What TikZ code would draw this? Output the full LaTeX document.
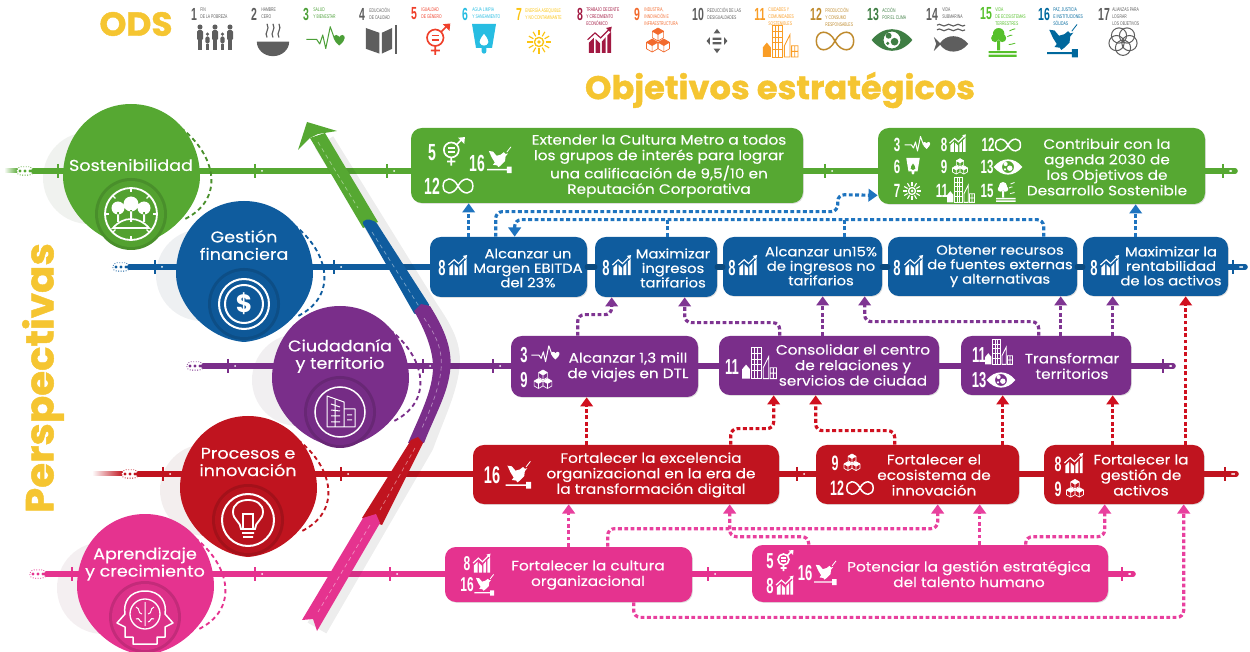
\documentclass[tikz,border=0pt]{standalone}
\usepackage{fontspec}
\usetikzlibrary{arrows.meta,calc,shadows}
\setmainfont{Poppins}
\newfontfamily\nar[FakeStretch=0.6]{Liberation Sans}
\newfontfamily\narl[FakeStretch=0.64]{Liberation Sans}
\newfontfamily\wf[FakeStretch=1.12,FakeBold=0.3]{Poppins}
\newfontfamily\hf[BoldFeatures={FakeBold=1.2,FakeStretch=1.03}]{Poppins}
\definecolor{cg}{HTML}{56A832}\definecolor{cb}{HTML}{0F5C9E}\definecolor{cp}{HTML}{7A2E8A}
\definecolor{cr}{HTML}{C0141F}\definecolor{ck}{HTML}{E5338F}\definecolor{cy}{HTML}{F5C531}
\definecolor{lb}{HTML}{1F74BF}\definecolor{lp}{HTML}{7F3592}\definecolor{lr}{HTML}{D0101F}\definecolor{lk}{HTML}{E8409E}
\definecolor{sg}{HTML}{5E5E5E}\definecolor{s3}{HTML}{4C9F38}\definecolor{s5}{HTML}{EF402B}\definecolor{s6}{HTML}{27BDE2}
\definecolor{s7}{HTML}{FBC412}\definecolor{s8}{HTML}{A21942}\definecolor{s9}{HTML}{F26A2D}\definecolor{s11}{HTML}{F99D26}
\definecolor{s12}{HTML}{BF8B2E}\definecolor{s13}{HTML}{3F7E44}\definecolor{s15}{HTML}{56C02B}\definecolor{s16}{HTML}{00689D}
\newcounter{nn}
\newcommand\numb[4]{\stepcounter{nn}\node[numst,font={\nar\bfseries\fontsize{#4}{#4}\selectfont}] (num\arabic{nn}) at (#1,#2) {#3};}
\newcommand\bx[6]{\node[boxst,fill=#6,minimum width={(#4-#2)*0.6pt},minimum height={(#5-#3)*0.6pt}] (#1) at ({(#2+#4)/2},{(#3+#5)/2}) {};}
\newcommand\sdg[6]{\node[numst,text=#5,font={\nar\bfseries\fontsize{10.5}{10.5}\selectfont}] (sn#1) at (#2,14) {#4};
 \node[anchor=north west,inner sep=0,align=left,text=#5,font={\narl\fontsize{3.2}{4.2}\selectfont}] (st#1) at (#3,7.5) {#6};}
\newcommand\cubeat[4]{\begin{scope}[shift={(#1,#2)},scale=#3]
 \fill[#4] (0,-1)--(.87,-.5)--(0,0)--(-.87,-.5)--cycle;
 \draw[#4,line width=.4pt,line join=round] (0,-1)--(.87,-.5)--(.87,.5)--(0,1)--(-.87,.5)--(-.87,-.5)--cycle (0,0)--(.87,-.5) (0,0)--(-.87,-.5) (0,0)--(0,1);
 \end{scope}}
\newcommand\tk[3]{\draw[#3,line width=1.3pt] (#1,#2-7)--(#1,#2+7); \fill[white] (#1+7,#2) circle (1);}
\newcommand\blob[5]{% cx cy col dashcol inner-offset
 \begin{scope}[shift={(#1,#2)}]
 \draw[#4,line width=1.1pt,dash pattern=on 2.6pt off 2pt] (50,-42) .. controls (85,-15) and (95,30) .. (52,50);
 \fill[#3] (0,-66) .. controls (38,-66) and (69,-35) .. (69,7) .. controls (69,36) and (38,72) .. (0,75) .. controls (-38,72) and (-68,36) .. (-68,7) .. controls (-68,-35) and (-38,-66) .. (0,-66) -- cycle;
 \fill[#3!85!black] (0,#5) circle (36);
 \fill[#3!96!black] (0,#5) circle (33);
 \end{scope}}
\tikzset{
 boxst/.style={rectangle,rounded corners=6.5pt,inner sep=0,draw=none,drop shadow={opacity=.25,shadow xshift=.5pt,shadow yshift=-.5pt}},
 txt/.style={text=white,align=center,inner sep=0,font={\wf\fontsize{8.2}{9.3}\selectfont}},
 txs/.style={text=white,align=center,inner sep=0,font={\wf\fontsize{7.9}{8.7}\selectfont}},
 ttl/.style={text=white,align=center,inner sep=0,font={\wf\fontsize{9.4}{10.4}\selectfont}},
 numst/.style={text=white,inner sep=0},
 track/.style={line width=3.4pt,line cap=round},
 conn/.style={line width=1.9pt,dash pattern=on 2.3pt off 1.5pt,rounded corners=4pt,-{Triangle[width=7.5pt,length=5.5pt]}},
 stub/.style={line width=1.9pt,dash pattern=on 2.3pt off 1.5pt,rounded corners=4pt},
 capst/.style={rectangle,rounded corners=2.5pt,draw=#1,densely dotted,line width=.5pt,fill=white,minimum width=10pt,minimum height=5pt,inner sep=0},
 ichart/.pic={\fill[#1] (-18,19)--(-18,3)--(-10,-5)--(-10,19)--cycle (-7,19)--(-7,-3)--(0,4)--(0,19)--cycle (3,19)--(3,1)--(9,-6)--(9,19)--cycle (12,19)--(12,-9)--(18,-15)--(18,19)--cycle;
  \draw[#1,line width=.7pt] (-20,-2)--(-8,-13)--(1,-5)--(15,-19); \fill[#1] (19,-23)--(17,-14)--(10,-21)--cycle;},
 ipulse/.pic={\draw[#1,line width=.6pt,line join=round] (-25,2)--(-11,2)--(-7,8)--(-3,-4)--(1,14)--(7,-15)--(13,2);
  \fill[#1] (19,10) .. controls (10,3) and (10,-4) .. (15,-4) .. controls (17,-4) and (19,-2) .. (19,-1) .. controls (19,-2) and (21,-4) .. (23,-4) .. controls (28,-4) and (28,3) .. (19,10) -- cycle;},
 igender/.pic={\draw[#1,line width=1pt] (-1,-3) circle (11); \draw[#1,line width=1pt] (-1,8)--(-1,20) (-7,14)--(5,14) (7,-11)--(15,-19);
  \draw[#1,line width=.8pt] (-6,-6)--(4,-6) (-6,0)--(4,0); \fill[#1] (19,-22)--(18,-12)--(9,-21)--cycle;},
 iwater/.pic={\fill[#1,even odd rule] (-15,-20)--(15,-20)--(10,10)--(3,10)--(3,14) .. controls (3,18) and (-3,18) .. (-3,14)--(-3,10)--(-10,10)--cycle (0,-8) .. controls (-10,4) and (-4,7) .. (0,7) .. controls (4,7) and (10,4) .. (0,-8) -- cycle;},
 isun/.pic={\draw[#1,line width=.8pt] (0,0) circle (7); \fill[#1] (0,0) circle (3); \foreach \a in {0,30,...,330}{\draw[#1,line width=.7pt] (\a:10)--(\a:18);}},
 icubes/.pic={\cubeat{0}{-10}{10}{#1}\cubeat{-9}{7}{10}{#1}\cubeat{9}{7}{10}{#1}},
 icity/.pic={\draw[#1,line width=.5pt] (-7,20) rectangle (6,-20) (-3,-20)--(-3,20) (1,-20)--(1,20) (-7,-12)--(6,-12) (-7,-5)--(6,-5) (-7,2)--(6,2) (-7,10)--(6,10);
  \fill[#1] (-19,20)--(-19,8)--(-14,2)--(-9,8)--(-9,20)--cycle; \draw[#1,line width=.5pt] (8,20)--(8,6)--(15,-8)--(15,20)--cycle (17,20) rectangle (25,6) (17,13)--(25,13) (21,6)--(21,20);},
 iinf/.pic={\draw[#1,line width=.9pt] (0,0) .. controls (8,-16) and (24,-14) .. (24,0) .. controls (24,14) and (8,16) .. (0,0) .. controls (-8,-16) and (-24,-14) .. (-24,0) .. controls (-24,14) and (-8,16) .. (0,0) -- cycle;},
 ieye/.pic={\fill[#1,even odd rule] (-24,0) .. controls (-10,-17) and (10,-17) .. (24,0) .. controls (10,17) and (-10,17) .. (-24,0) -- cycle (10,0) arc (0:360:10); \fill[#1] (-4,-5) circle (3.5) (3,2) circle (4.5) (-5,4) circle (2);},
 ifish/.pic={\draw[#1,line width=.7pt] (-18,-19) .. controls (-14,-23) and (-10,-15) .. (-6,-19) .. controls (-2,-23) and (2,-15) .. (6,-19) .. controls (10,-23) and (14,-15) .. (18,-19) (-18,-13) .. controls (-14,-17) and (-10,-9) .. (-6,-13) .. controls (-2,-17) and (2,-9) .. (6,-13) .. controls (10,-17) and (14,-9) .. (18,-13);
  \fill[#1] (-22,-4)--(-14,4) .. controls (-6,-8) and (12,-8) .. (22,5) .. controls (12,18) and (-6,18) .. (-14,6)--(-22,14)--(-19,5)--cycle;},
 itree/.pic={\fill[#1] (-6,-10) circle (8) (-11,-4) circle (5.5) (-1,-4) circle (5.5) (-8,-1) rectangle (-4,13) (-20,14) rectangle (19,17) (-20,19) rectangle (19,22);
  \draw[#1,line width=.5pt] (6,-6) .. controls (9,-9) and (11,-7) .. (13,-8) (9,-14) .. controls (12,-17) and (14,-15) .. (17,-17) (8,5) .. controls (11,3) and (13,6) .. (17,3);},
 idove/.pic={\fill[#1,line join=round] (-17,-15)--(-10,-14)--(-4,-7)--(3,-9)--(8,-13)--(11,-10)--(15,-11)--(11,-6)--(10,2)--(3,9)--(-1,12)--(-3,9)--(-10,8)--(-7,4)--(-12,-4)--cycle (-20,15) rectangle (14,17.5) (13,11) rectangle (21,22);
  \draw[#1,line width=.5pt] (13,-13)--(20,-22);},
 ipeople/.pic={\foreach \x/\y/\s in {-20/0/1,-10/6/.7,0/0/1,10/6/.7,20/0/1}{\fill[#1] (\x,{\y-12*\s}) circle ({3.4*\s}); \fill[#1,rounded corners=1pt] ({\x-4*\s},{\y-8*\s}) rectangle ({\x+4*\s},{\y+6*\s}); \fill[#1] ({\x-3*\s},{\y+6*\s}) rectangle ({\x+3*\s},{\y+19*\s});}},
 ibowl/.pic={\fill[#1] (-19,2) arc (180:0:19 and 17) -- cycle; \draw[#1,line width=.7pt] (-7,-3) .. controls (-11,-9) and (-3,-12) .. (-7,-19) (0,-3) .. controls (-4,-9) and (4,-12) .. (0,-19) (7,-3) .. controls (3,-9) and (11,-12) .. (7,-19);},
 ibook/.pic={\fill[#1] (-19,-15)--(-2,-9)--(-2,17)--(-19,11)--cycle (14,-15)--(1,-9)--(1,17)--(14,11)--cycle; \draw[#1,line width=1pt] (19,-19)--(19,17);},
 iarr/.pic={\fill[#1] (0,-22)--(6,-14)--(-6,-14)--cycle (0,22)--(6,14)--(-6,14)--cycle (-19,0)--(-13,-7)--(-13,7)--cycle (19,0)--(13,-7)--(13,7)--cycle (-8,-6) rectangle (8,-2) (-8,2) rectangle (8,6);},
 ifive/.pic={\foreach \a in {90,162,234,306,18}{\draw[#1,line width=.6pt] (\a:8.5) circle (9.5);}},
 bforest/.pic={\draw[#1,line width=1.1pt] (0,0) circle (26); \foreach \a in {0,45,...,315}{\draw[#1,line width=.8pt] (\a:22)--(\a:26);}
  \fill[#1] (-13,-6) circle (6.5) (0,-10) circle (7.5) (13,-6) circle (6.5) (-14,-2) rectangle (-12,8) (-1,-4) rectangle (1,8) (12,-2) rectangle (14,8);
  \draw[#1,line width=1pt] (-18,14) .. controls (-8,2) and (8,2) .. (18,14)--cycle;},
 bdollar/.pic={\draw[#1,line width=1.2pt] (0,0) circle (25) (0,0) circle (19); \node[text=#1,inner sep=0,font={\bfseries\fontsize{15}{15}\selectfont}] (usd) at (0,0) {\$};},
 bbldg/.pic={\draw[#1,line width=.9pt] (0,0) circle (25); \draw[#1,line width=.6pt,line join=round] (-13,15)--(-13,-16)--(4,-10)--(4,15)--cycle (4,-3)--(15,-3)--(15,15)--(4,15) (-9,-8)--(0,-5) (-9,-2)--(0,-1) (-9,4)--(0,4) (-9,10)--(0,10) (-5,-12)--(-5,15) (7,3)--(12,3) (7,8)--(12,8);},
 bbulb/.pic={\draw[#1,line width=1.2pt] (0,0) circle (26); \draw[#1,line width=1.1pt] (-7,9) .. controls (-7,2) and (-15,0) .. (-15,-8) .. controls (-15,-16) and (-8,-20) .. (0,-20) .. controls (8,-20) and (15,-16) .. (15,-8) .. controls (15,0) and (7,2) .. (7,9) -- cycle (-6,13)--(6,13) (-5,17)--(5,17) (-5,9)--(-5,-6)--(5,-6)--(5,9);},
 bbrain/.pic={\draw[#1,line width=.9pt,line join=round] (0,-26) .. controls (16,-26) and (22,-14) .. (20,-3)--(28,6)--(20,10)--(20,20)--(12,20)--(12,27)--(-12,27)--(-12,20)--(-20,20)--(-20,10)--(-28,6)--(-20,-3) .. controls (-22,-14) and (-16,-26) .. (0,-26) -- cycle;
  \draw[#1,line width=.8pt] (0,-3) circle (15); \draw[#1,line width=.6pt] (0,-15)--(0,9) (-9,-10) .. controls (-4,-8) and (-8,-4) .. (-3,-3) (-9,2) .. controls (-5,0) and (-6,5) .. (-3,5) (9,-10) .. controls (4,-8) and (8,-4) .. (3,-3) (9,2) .. controls (5,0) and (6,5) .. (3,5);},
}
\begin{document}
\begin{tikzpicture}[x=0.6pt,y=-0.6pt]
\useasboundingbox (0,0) rectangle (1250,652);
% headings
\node[inner sep=0,text=cy,font={\hf\bfseries\fontsize{20}{20}\selectfont}] (ods) at (136,24) {ODS};
\node[inner sep=0,text=cy,font={\hf\bfseries\fontsize{19.6}{19.6}\selectfont}] (obj) at (780,90) {Objetivos estratégicos};
\node[inner sep=0,text=cy,rotate=90,font={\hf\bfseries\fontsize{23.5}{23.5}\selectfont}] (per) at (43,378) {Perspectivas};
% SDG strip
\sdg{a}{194}{200}{1}{sg}{FIN\\DE LA POBREZA}
\sdg{b}{254}{261}{2}{sg}{HAMBRE\\CERO}
\sdg{c}{306}{313}{3}{s3}{SALUD\\Y BIENESTAR}
\sdg{d}{362}{369}{4}{sg}{EDUCACIÓN\\DE CALIDAD}
\sdg{e}{414}{421}{5}{s5}{IGUALDAD\\DE GÉNERO}
\sdg{f}{465}{472}{6}{s6}{AGUA LIMPIA\\Y SANEAMIENTO}
\sdg{g}{519}{525}{7}{s7}{ENERGÍA ASEQUIBLE\\Y NO CONTAMINANTE}
\sdg{h}{580}{586}{8}{s8}{TRABAJO DECENTE\\Y CRECIMIENTO\\ECONÓMICO}
\sdg{i}{637}{644}{9}{s9}{INDUSTRIA,\\INNOVACIÓN E\\INFRAESTRUCTURA}
\sdg{j}{698}{707}{10}{sg}{REDUCCIÓN DE LAS\\DESIGUALDADES}
\sdg{k}{760}{768}{11}{s11}{CIUDADES Y\\COMUNIDADES\\SOSTENIBLES}
\sdg{l}{816}{825}{12}{s12}{PRODUCCIÓN\\Y CONSUMO\\RESPONSABLES}
\sdg{m}{873}{882}{13}{s13}{ACCIÓN\\POR EL CLIMA}
\sdg{n}{932}{942}{14}{sg}{VIDA\\SUBMARINA}
\sdg{o}{986}{995}{15}{s15}{VIDA\\DE ECOSISTEMAS\\TERRESTRES}
\sdg{p}{1044}{1053}{16}{s16}{PAZ, JUSTICIA\\E INSTITUCIONES\\SÓLIDAS}
\sdg{q}{1104}{1112}{17}{sg}{ALIANZAS PARA\\LOGRAR\\LOS OBJETIVOS}
\pic[scale=.75] at (215,36) {ipeople=sg};
\pic[scale=.85] at (273,40) {ibowl=sg};
\pic[scale=.75] at (325,38) {ipulse=s3};
\pic[scale=.8] at (381,40) {ibook=sg};
\pic[scale=.75] at (436,40) {igender=s5};
\pic[scale=.8] at (484,40) {iwater=s6};
\pic[scale=.65] at (539,42) {isun=s7};
\pic[scale=.62] at (600,41) {ichart=s8};
\pic[scale=.65] at (658,41) {icubes=s9};
\pic[scale=.55] at (717,41) {iarr=sg};
\pic[scale=.8] at (778,41) {icity=s11};
\pic[scale=.78] at (835,41) {iinf=s12};
\pic[scale=.85] at (892,40) {ieye=s13};
\pic[scale=.78] at (951,40) {ifish=sg};
\pic[scale=.72] at (1003,41) {itree=s15};
\pic[scale=.75] at (1062,41) {idove=s16};
\pic[scale=.8] at (1123,41) {ifive=sg};
% pale discs and centres of the perspective blobs
\foreach \x/\y/\c in {131/170/cg,244/267/cb,340/372/cp,248/482/cr,145/580/ck}{\fill[\c!25!gray!11!white] (\x-42,\y+8) circle (46);}
\coordinate (cG) at (131,171); \coordinate (cB) at (244,267); \coordinate (cP) at (340,366); \coordinate (cR) at (248,474); \coordinate (cK) at (145,574);
% boxes
\bx{g1}{411}{128}{803}{203}{cg}
\bx{g2}{878}{128}{1205}{204}{cg}
\bx{b1}{430}{237}{587}{297}{cb}
\bx{b2}{595}{237}{717}{297}{cb}
\bx{b3}{723}{237}{882}{296}{cb}
\bx{b4}{888}{237}{1077}{296}{cb}
\bx{b5}{1083}{237}{1228}{296}{cb}
\bx{p1}{511}{336}{698}{397}{cp}
\bx{p2}{719}{336}{939}{395}{cp}
\bx{p3}{961}{336}{1131}{395}{cp}
\bx{r1}{473}{445}{779}{504}{cr}
\bx{r2}{816}{445}{1019}{504}{cr}
\bx{r3}{1044}{445}{1204}{504}{cr}
\bx{k1}{445}{547}{692}{602}{ck}
\bx{k2}{752}{545}{1108}{602}{ck}
% track start capsules
\shade[left color=white,right color=cg] (4,169) rectangle (18,173);
\shade[left color=white,right color=cr] (92,472) rectangle (123,476);
\node[capst=cg] (sG) at (25,171) {};
\node[capst=cb] (sB) at (121,267) {};
\node[capst=cp] (sP) at (195,366) {};
\node[capst=cr] (sR) at (130,474) {};
\node[capst=ck] (sK) at (38,574) {};
\foreach \x/\y/\c in {25/171/cg,121/267/cb,195/366/cp,130/474/cr,38/574/ck}{\fill[\c] (\x-5,\y) circle (1.6) (\x,\y) circle (1.6) (\x+5,\y) circle (1.6);}
% end points of the tracks
\coordinate (eG) at (1235,171); \coordinate (eB) at (1245,267); \coordinate (eP) at (1173,366); \coordinate (eR) at (1236,474); \coordinate (eK) at (1133,574);
% tracks
\draw[track,cg] (sG.east)--(cG)--(g1.west |- cG);
\draw[track,cg] (g1.east |- cG)--(g2.west |- cG);
\draw[track,cg] (g2.east |- cG)--(eG);
\draw[track,cb] (sB.east)--(cB)--(b1.west |- cB);
\draw[track,cb!80!black] (b1.east |- cB)--(b2.west |- cB);
\draw[track,cb!80!black] (b2.east |- cB)--(b3.west |- cB);
\draw[track,cb!80!black] (b3.east |- cB)--(b4.west |- cB);
\draw[track,cb!80!black] (b4.east |- cB)--(b5.west |- cB);
\draw[track,cb] (b5.east |- cB)--(eB);
\draw[track,cp] (sP.east)--(cP)--(p1.west |- cP);
\draw[track,cp] (p1.east |- cP)--(p2.west |- cP);
\draw[track,cp] (p2.east |- cP)--(p3.west |- cP);
\draw[track,cp] (p3.east |- cP)--(eP);
\draw[track,cr] (sR.east)--(cR)--(r1.west |- cR);
\draw[track,cr] (r1.east |- cR)--(r2.west |- cR);
\draw[track,cr] (r2.east |- cR)--(r3.west |- cR);
\draw[track,cr] (r3.east |- cR)--(eR);
\draw[track,ck] (sK.east)--(cK)--(k1.west |- cK);
\draw[track,ck] (k1.east |- cK)--(k2.west |- cK);
\draw[track,ck] (k2.east |- cK)--(eK);
\foreach \x in {58,255,387,825,1223}{\tk{\x}{171}{cg}}
\foreach \x in {155,334,1233}{\tk{\x}{267}{cb}}
\foreach \x in {228,423,493,1163}{\tk{\x}{366}{cp}}
\foreach \x in {163,341,797,1225}{\tk{\x}{474}{cr}}
\foreach \x in {72,255,390,708,1122}{\tk{\x}{574}{ck}}
\foreach \x/\y in {1242/267,1171/366,1234/474,1130/574,1231/171}{\fill[white] (\x,\y) circle (1.2);}
% ribbon
\draw[black,opacity=.07,line width=13pt,line join=round] (324,142)--(428,310) .. controls (445,335) and (452,350) .. (448,372) .. controls (444,395) and (434,415) .. (423,445)--(317,628);
\fill[cg] (310,138)--(325,133)--(378,222)--(363,228)--cycle;
\fill[cg] (298,150)--(307,122)--(337,131)--(318,134)--(310,138)--cycle;
\fill[cb,rounded corners=1pt] (362,222)--(368,219)--(376,222)--(430,306)--(415,315)--cycle;
\fill[cp] (414,311)--(421,304)--(430,306) .. controls (445,330) and (453,350) .. (450,372) .. controls (447,395) and (435,415) .. (424,443)--(408,443) .. controls (420,415) and (433,390) .. (433,367) .. controls (433,350) and (425,330) .. (414,311)--cycle;
\fill[cr] (411,440)--(418,437)--(423,443)--(382,525)--(362,518)--cycle;
\fill[ck] (363,518)--(376,514)--(380,523)--(317,631)--(313,619)--(302,620)--cycle;
\draw[white,opacity=.45,line width=.4pt,dash pattern=on 2.5pt off 2pt] (318,142)--(358,208) (372,232)--(420,308) (424,318) .. controls (436,335) and (443,350) .. (441,370) .. controls (439,390) and (428,415) .. (422,428) (415,448)--(380,510) (370,525)--(318,612);
% perspective blobs
\blob{131}{170}{cg}{cg!85!black}{44}
\blob{244}{267}{cb}{cb}{37}
\blob{340}{372}{cp}{cp}{40}
\blob{248}{482}{cr}{cr}{38}
\blob{145}{580}{ck}{ck}{37}
\pic at (131,214) {bforest=white};
\pic at (244,304) {bdollar=white};
\pic at (340,412) {bbldg=white};
\pic at (248,520) {bbulb=white};
\pic at (145,617) {bbrain=white};
\node[ttl] (tG) at (131,165) {Sostenibilidad};
\node[ttl] (tB) at (244,245) {Gestión\\financiera};
\node[ttl] (tP) at (340,356) {Ciudadanía\\y territorio};
\node[ttl] (tR) at (248,462) {Procesos e\\innovación};
\node[ttl] (tK) at (145,564) {Aprendizaje\\y crecimiento};
% box text
\node[txt] (tg1) at (659,166) {Extender la Cultura Metro a todos\\los grupos de interés para lograr\\una calificación de 9,5/10 en\\Reputación Corporativa};
\node[txt] (tg2) at (1107,167) {Contribuir con la\\agenda 2030 de\\los Objetivos de\\Desarrollo Sostenible};
\node[txs] (tb1) at (528,268) {Alcanzar un\\Margen EBITDA\\del 23\%};
\node[txs] (tb2) at (673,268) {Maximizar\\ingresos\\tarifarios};
\node[txs] (tb3) at (821,266) {Alcanzar un15\%\\de ingresos no\\tarifarios};
\node[txs] (tb4) at (1000,266) {Obtener recursos\\de fuentes externas\\y alternativas};
\node[txs] (tb5) at (1171,266) {Maximizar la\\rentabilidad\\de los activos};
\node[txt] (tp1) at (628,367) {Alcanzar 1,3 mill\\de viajes en DTL};
\node[txt] (tp2) at (853,365) {Consolidar el centro\\de relaciones y\\servicios de ciudad};
\node[txt] (tp3) at (1072,366) {Transformar\\territorios};
\node[txt] (tr1) at (651,475) {Fortalecer la excelencia\\organizacional en la era de\\la transformación digital};
\node[txt] (tr2) at (934,475) {Fortalecer el\\ecosistema de\\innovación};
\node[txt] (tr3) at (1141,475) {Fortalecer la\\gestión de\\activos};
\node[txt] (tk1) at (588,575) {Fortalecer la cultura\\organizacional};
\node[txt] (tk2) at (969,574) {Potenciar la gestión estratégica\\del talento humano};
% box badges
\numb{432}{153}{5}{14} \pic[scale=.68] at (452,152) {igender=white};
\numb{477}{163}{16}{14} \pic[scale=.6] at (499,160) {idove=white};
\numb{432}{186}{12}{14} \pic[scale=.62] at (458,186) {iinf=white};
\numb{897}{145}{3}{11.5} \pic[scale=.5] at (917,144) {ipulse=white};
\numb{944}{145}{8}{11.5} \pic[scale=.42] at (958,144) {ichart=white};
\numb{988}{145}{12}{11.5} \pic[scale=.52] at (1008,145) {iinf=white};
\numb{897}{167}{6}{11.5} \pic[scale=.45] at (913,167) {iwater=white};
\numb{944}{167}{9}{11.5} \pic[scale=.42] at (960,167) {icubes=white};
\numb{987}{167}{13}{11.5} \pic[scale=.6] at (1008,167) {ieye=white};
\numb{897}{191}{7}{11.5} \pic[scale=.5] at (912,191) {isun=white};
\numb{942}{191}{11}{11.5} \pic[scale=.62] at (959,190) {icity=white};
\numb{987}{191}{15}{11.5} \pic[scale=.5] at (1006,191) {itree=white};
\foreach \n/\a/\b in {i/442/458,j/606/622,k/732/748,l/897/914,m/1094/1110}{\node[numst,font={\nar\bfseries\fontsize{13}{13}\selectfont}] (eight\n) at (\a,268) {8}; \pic[scale=.48] at (\b,266) {ichart=white};}
\numb{524}{355}{3}{13} \pic[scale=.55] at (545,354) {ipulse=white};
\numb{524}{380}{9}{13} \pic[scale=.5] at (543,380) {icubes=white};
\numb{732}{367}{11}{13} \pic[scale=.78] at (757,363) {icity=white};
\numb{979}{355}{11}{13} \pic[scale=.62] at (997,352) {icity=white};
\numb{979}{380}{13}{13} \pic[scale=.6] at (1001,380) {ieye=white};
\numb{492}{475}{16}{14.5} \pic[scale=.62] at (518,475) {idove=white};
\numb{835}{463}{9}{12.5} \pic[scale=.45] at (852,463) {icubes=white};
\numb{837}{488}{12}{12.5} \pic[scale=.55] at (860,488) {iinf=white};
\numb{1058}{464}{8}{12.5} \pic[scale=.48] at (1074,464) {ichart=white};
\numb{1058}{489}{9}{12.5} \pic[scale=.48] at (1075,489) {icubes=white};
\numb{467}{564}{8}{12} \pic[scale=.45] at (482,564) {ichart=white};
\numb{467}{585}{16}{12} \pic[scale=.48] at (484,585) {idove=white};
\numb{770}{561}{5}{13} \pic[scale=.5] at (784,561) {igender=white};
\numb{770}{586}{8}{13} \pic[scale=.45] at (785,586) {ichart=white};
\numb{805}{573}{16}{13} \pic[scale=.55] at (825,573) {idove=white};
% connectors: blue
\draw[conn,lb] ($(b1.north west)+(39,0)$)--($(g1.south west)+(58,0)$);
\draw[conn,lb] ($(b1.north west)+(66,0)$)--++(0,-25)--++(342,0)--++(0,-17)--($(g2.south west)+(0,-9)$);
\draw[conn,lb] ($(b4.north west)+(156,0)$)--++(0,-17)--++(-529,0)--($(b1.north west)+(85,0)$);
\draw[stub,lb] ($(b2.north west)+(73,0)$)--++(0,-17);
\draw[stub,lb] ($(b3.north west)+(122,0)$)--++(0,-17);
\draw[conn,lb] ($(b5.north west)+(53,0)$)--($(g2.south west)+(258,0)$);
% purple
\draw[conn,lp] ($(p1.north west)+(67,0)$)--++(0,-21)--++(34,0)--($(b2.south west)+(17,0)$);
\draw[conn,lp] ($(p2.north west)+(61,0)$)--++(0,-13)--++(-95,0)--($(b2.south west)+(90,0)$);
\draw[conn,lp] ($(p2.north west)+(104,0)$)--($(b3.south west)+(100,0)$);
\draw[conn,lp] ($(p3.north west)+(78,0)$)--++(0,-14)--++(-174,0)--($(b3.south west)+(142,0)$);
\draw[conn,lp] ($(p3.north west)+(100,0)$)--($(b4.south west)+(173,0)$);
\draw[conn,lp] ($(p3.north west)+(152,0)$)--($(b5.south west)+(30,0)$);
% red
\draw[conn,lr] ($(r1.north west)+(114,0)$)--($(p1.south west)+(76,0)$);
\draw[conn,lr] ($(r1.north west)+(258,0)$)--++(0,-16)--++(43,0)--($(p2.south west)+(55,0)$);
\draw[conn,lr] ($(r2.north west)+(79,0)$)--++(0,-14)--++(-79,0)--($(p2.south west)+(97,0)$);
\draw[conn,lr] ($(r2.north west)+(187,0)$)--($(p3.south west)+(42,0)$);
\draw[conn,lr] ($(r3.north west)+(69,0)$)--($(p3.south west)+(152,0)$);
\draw[conn,lr] ($(r3.north west)+(142,0)$)--($(b5.south west)+(103,0)$);
% pink
\draw[conn,lk] ($(k1.north west)+(124,0)$)--($(r1.south west)+(96,0)$);
\draw[conn,lk] ($(k1.north west)+(163,0)$)--++(0,-18)--++(330,0)--($(r2.south west)+(122,0)$);
\draw[conn,lk] ($(k2.north west)+(57,0)$)--++(0,-8)--++(-79,0)--($(r1.south west)+(257,0)$);
\draw[conn,lk] ($(k2.north west)+(228,0)$)--($(r2.south west)+(164,0)$);
\draw[conn,lk] ($(k2.north west)+(274,0)$)--++(0,-8)--++(79,0)--($(r3.south west)+(61,0)$);
\draw[conn,lk] ($(k1.south west)+(189,0)$)--++(0,15)--++(550,0)--($(r3.south west)+(140,0)$);
\end{tikzpicture}
\end{document}
